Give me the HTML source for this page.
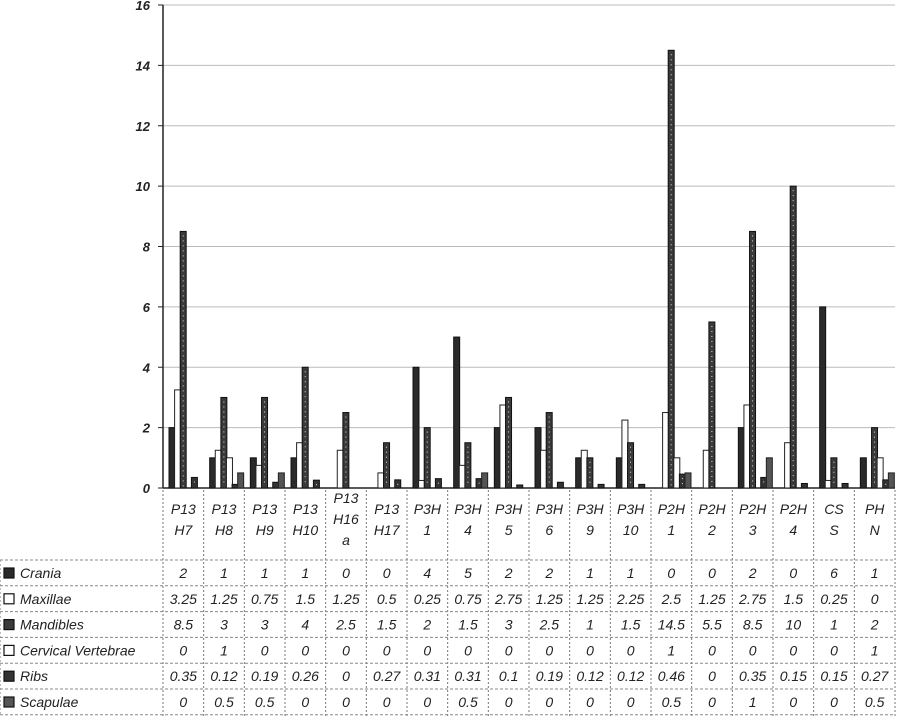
<!DOCTYPE html>
<html><head><meta charset="utf-8"><style>
body{margin:0;background:#fff;font-family:"Liberation Sans",sans-serif;}
svg text{font-family:"Liberation Sans",sans-serif;font-style:italic;fill:#222;}
</style></head><body>
<svg id="c" width="900" height="716" xmlns="http://www.w3.org/2000/svg"></svg>
<script>
const categories=[["P13","H7"],["P13","H8"],["P13","H9"],["P13","H10"],["P13","H16","a"],["P13","H17"],["P3H","1"],["P3H","4"],["P3H","5"],["P3H","6"],["P3H","9"],["P3H","10"],["P2H","1"],["P2H","2"],["P2H","3"],["P2H","4"],["CS","S"],["PH","N"]];
const seriesNames=["Crania","Maxillae","Mandibles","Cervical Vertebrae","Ribs","Scapulae"];
const crania=[2,1,1,1,0,0,4,5,2,2,1,1,0,0,2,0,6,1];
const maxillae=[3.25,1.25,0.75,1.5,1.25,0.5,0.25,0.75,2.75,1.25,1.25,2.25,2.5,1.25,2.75,1.5,0.25,0];
const mandibles=[8.5,3,3,4,2.5,1.5,2,1.5,3,2.5,1,1.5,14.5,5.5,8.5,10,1,2];
const cervical=[0,1,0,0,0,0,0,0,0,0,0,0,1,0,0,0,0,1];
const ribs=[0.35,0.12,0.19,0.26,0,0.27,0.31,0.31,0.1,0.19,0.12,0.12,0.46,0,0.35,0.15,0.15,0.27];
const scapulae=[0,0.5,0.5,0,0,0,0,0.5,0,0,0,0,0.5,0,1,0,0,0.5];
const yTicks=[0,2,4,6,8,10,12,14,16];
const series=[crania,maxillae,mandibles,cervical,ribs,scapulae];
const NS="http://www.w3.org/2000/svg";
const svg=document.getElementById('c');
const X0=163,X1=895,Y0=488,Y1=5,YMAX=16;
const gw=(X1-X0)/categories.length;
const y=v=>Y0-(v/YMAX)*(Y0-Y1);
const gx=i=>X0+i*gw;
function el(t,a,p){const e=document.createElementNS(NS,t);for(const k in a)e.setAttribute(k,a[k]);(p||svg).appendChild(e);return e;}
const fills=["#2a2a2a","#fff","#3a3a3a","#fff","#333","#555"];
const strokes=["#111","#222","#111","#222","#111","#222"];
// grid + y ticks
yTicks.forEach(t=>{
  const g=el('line',{x1:X0,x2:X1,y1:y(t),y2:y(t),stroke:t?"#bbb":"#222","stroke-width":t?1:1.5});
  
  
  el('line',{x1:X0-5,x2:X0,y1:y(t),y2:y(t),stroke:"#222"});
  const tx=el('text',{x:150,y:y(t)+5,"text-anchor":"end","font-size":13,"font-weight":"bold"});
  tx.textContent=t;
  
  
});
el('line',{x1:X0,x2:X0,y1:Y1,y2:Y0,stroke:"#222","stroke-width":1.5});
// bars
const bw=6,step=5.6,off=6;
series.forEach((s,si)=>{
  s.forEach((v,i)=>{
    if(v<=0)return;
    const r=el('rect',{x:gx(i)+off+si*step,y:y(v),width:bw,height:Y0-y(v),fill:fills[si],stroke:strokes[si],"stroke-width":1});
    
    
    if(si===2||si===4){
      for(let yy=y(v)+4;yy<Y0-2;yy+=5){el('rect',{x:gx(i)+off+si*step+2.5,y:yy,width:1,height:1,fill:"#ddd"});}
    }
  });
});
// table
const rowTop=560,rowH=25.8;
for(let i=0;i<=categories.length;i++){
  el('line',{x1:gx(i),x2:gx(i),y1:490,y2:716,stroke:"#777","stroke-dasharray":"2,2"});
}
for(let r=0;r<=6;r++){
  el('line',{x1:0,x2:X1,y1:rowTop+r*rowH,y2:rowTop+r*rowH,stroke:"#888","stroke-dasharray":"3,2"});
}
el('line',{x1:0,x2:0,y1:rowTop,y2:716,stroke:"#777","stroke-dasharray":"2,2"});
categories.forEach((c,i)=>{
  const cy=525-(c.length-1)*11;
  c.forEach((ln,k)=>{
    const t=el('text',{x:gx(i)+gw/2,y:cy+k*21,"text-anchor":"middle","font-size":14});
    t.textContent=ln;
    
    
  });
});
seriesNames.forEach((n,si)=>{
  const yy=rowTop+si*rowH;
  el('rect',{x:4,y:yy+8,width:10,height:10,fill:fills[si],stroke:"#111","stroke-width":1.2});
  const t=el('text',{x:20,y:yy+18,"font-size":14});
  t.textContent=n;
  
  
  series[si].forEach((v,i)=>{
    const d=el('text',{x:gx(i)+gw/2,y:yy+18,"text-anchor":"middle","font-size":14});
    d.textContent=v;
    
    
  });
});
</script>
</body></html>
